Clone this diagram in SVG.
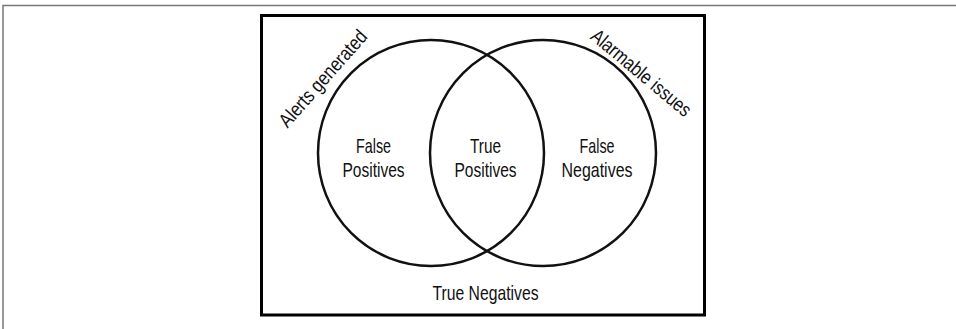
<svg xmlns="http://www.w3.org/2000/svg" width="956" height="329" viewBox="0 0 956 329">
<style>
.frame{fill:none;stroke:#777;stroke-width:1.5}
.circ{fill:none;stroke:#111;stroke-width:2.5}
.lbl{font-family:"Liberation Sans",Arial,sans-serif;font-size:21px;fill:#111;text-anchor:middle}
.rot{font-family:"Liberation Sans",Arial,sans-serif;font-size:20px;fill:#111;text-anchor:middle}
</style>
<rect width="956" height="329" fill="#fff"/>
<path class="frame" d="M3,329 V5.5 H956"/>
<rect x="261.5" y="15.5" width="443" height="299.5" fill="#fff" stroke="#000" stroke-width="3"/>
<g id="alerts">
<circle class="circ" cx="431" cy="153" r="113"/>
<text class="rot" transform="translate(328,83) rotate(-48.5)" textLength="122" lengthAdjust="spacingAndGlyphs">Alerts generated</text>
</g>
<g id="issues">
<circle class="circ" cx="543" cy="153" r="113"/>
<text class="rot" transform="translate(637,78) rotate(40)" textLength="124" lengthAdjust="spacingAndGlyphs">Alarmable issues</text>
</g>
<g id="false-positives">
<text class="lbl" x="373.5" y="153" textLength="35" lengthAdjust="spacingAndGlyphs">False</text>
<text class="lbl" x="373.5" y="177" textLength="62" lengthAdjust="spacingAndGlyphs">Positives</text>
</g>
<g id="true-positives">
<text class="lbl" x="485.5" y="153" textLength="31" lengthAdjust="spacingAndGlyphs">True</text>
<text class="lbl" x="485.5" y="177" textLength="62" lengthAdjust="spacingAndGlyphs">Positives</text>
</g>
<g id="false-negatives">
<text class="lbl" x="597" y="153" textLength="35" lengthAdjust="spacingAndGlyphs">False</text>
<text class="lbl" x="597" y="177" textLength="71" lengthAdjust="spacingAndGlyphs">Negatives</text>
</g>
<g id="true-negatives">
<text class="lbl" x="485.5" y="300" textLength="106" lengthAdjust="spacingAndGlyphs">True Negatives</text>
</g>
<g id="connectors"></g>
</svg>
